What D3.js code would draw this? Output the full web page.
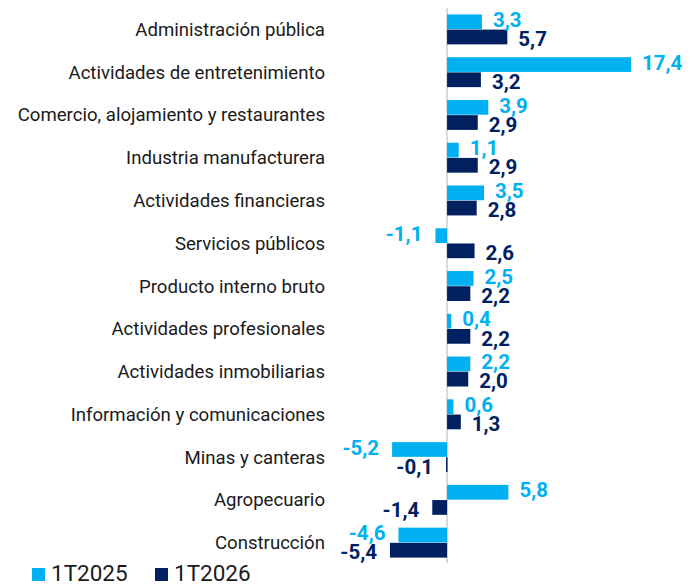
<!DOCTYPE html>
<html>
<head>
<meta charset="utf-8">
<script src="https://cdn.jsdelivr.net/npm/d3@7"></script>
<style>
  html, body { margin: 0; padding: 0; background: #ffffff; }
  svg { display: block; font-family: Roboto, "Noto Sans", sans-serif; }
</style>
</head>
<body>
<svg id="chart" width="694" height="586"></svg>
<script>
const categories = [
  "Administración pública",
  "Actividades de entretenimiento",
  "Comercio, alojamiento y restaurantes",
  "Industria manufacturera",
  "Actividades financieras",
  "Servicios públicos",
  "Producto interno bruto",
  "Actividades profesionales",
  "Actividades inmobiliarias",
  "Información y comunicaciones",
  "Minas y canteras",
  "Agropecuario",
  "Construcción"
];
const values2025 = [3.3, 17.4, 3.9, 1.1, 3.5, -1.1, 2.5, 0.4, 2.2, 0.6, -5.2, 5.8, -4.6];
const values2026 = [5.7, 3.2, 2.9, 2.9, 2.8, 2.6, 2.2, 2.2, 2.0, 1.3, -0.1, -1.4, -5.4];
const seriesNames = ["1T2025", "1T2026"];
const colors = ["#00B0F0", "#002060"];

const svg = d3.select("#chart");
const fmt = v => d3.format(".1f")(v).replace(".", ",").replace("\u2212", "-");

const allVals = values2025.concat(values2026);
const x = d3.scaleLinear()
  .domain([d3.min(allVals), d3.max(allVals)])
  .range([390, 631]);

const y = d3.scaleBand()
  .domain(categories)
  .range([8, 564])
  .paddingInner(0.3)
  .paddingOuter(0.15);

const ySub = d3.scaleBand()
  .domain(seriesNames)
  .range([0, y.bandwidth()])
  .paddingInner(0.03);

const data = categories.map((c, i) => ({
  cat: c,
  vals: [
    { s: seriesNames[0], v: values2025[i], c: colors[0] },
    { s: seriesNames[1], v: values2026[i], c: colors[1] }
  ]
}));

// zero axis line
svg.append("line")
  .attr("x1", x(0)).attr("x2", x(0))
  .attr("y1", 8).attr("y2", 563)
  .attr("stroke", "#d9d9d9").attr("stroke-width", 2);

// category labels
svg.append("g").selectAll("text")
  .data(categories).join("text")
  .attr("x", 325)
  .attr("y", d => y(d) + y.bandwidth() / 2)
  .attr("dy", "0.35em")
  .attr("text-anchor", "end")
  .attr("font-size", 18.6)
  .attr("fill", "#1a1a1a")
  .text(d => d);

const groups = svg.append("g").selectAll("g")
  .data(data).join("g")
  .attr("transform", d => `translate(0,${y(d.cat)})`);

groups.selectAll("rect")
  .data(d => d.vals).join("rect")
  .attr("x", d => Math.min(x(0), x(d.v)))
  .attr("y", d => ySub(d.s))
  .attr("width", d => Math.max(1.5, Math.abs(x(d.v) - x(0))))
  .attr("height", ySub.bandwidth())
  .attr("fill", d => d.c);

groups.selectAll("text")
  .data(d => d.vals).join("text")
  .attr("x", d => d.v >= 0 ? x(d.v) + 11 : x(d.v) - 13)
  .attr("y", d => ySub(d.s) + ySub.bandwidth() / 2 + (d.s === seriesNames[0] ? -2 : 2))
  .attr("dy", "0.35em")
  .attr("text-anchor", d => d.v >= 0 ? "start" : "end")
  .attr("font-size", 20.5)
  .attr("font-weight", "bold")
  .attr("fill", d => d.c)
  .text(d => fmt(d.v));

// legend
const legendX = [32, 155];
const legend = svg.append("g").selectAll("g")
  .data(seriesNames).join("g")
  .attr("transform", (d, i) => `translate(${legendX[i]},568)`);
legend.append("rect")
  .attr("width", 13).attr("height", 13)
  .attr("fill", (d, i) => colors[i]);
legend.append("text")
  .attr("x", 19).attr("y", 12.5)
  .attr("font-size", 22.5)
  .attr("fill", "#1a1a1a")
  .text(d => d);
</script>
</body>
</html>
